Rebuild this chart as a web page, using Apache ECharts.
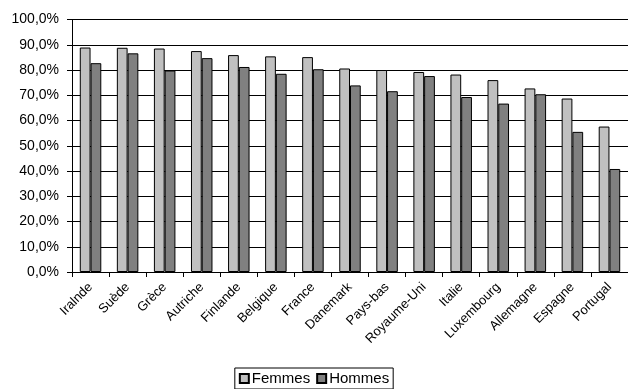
<!DOCTYPE html>
<html><head><meta charset="utf-8">
<script src="https://cdn.jsdelivr.net/npm/echarts@6/dist/echarts.min.js"></script>
<style>html,body{margin:0;padding:0;background:#fff}#c{width:628px;height:389px}</style>
</head><body><div id="c"></div>
<script>
const categories = ['Iralnde','Suède','Grèce','Autriche','Finlande','Belgique','France','Danemark','Pays-bas','Royaume-Uni','Italie','Luxembourg','Allemagne','Espagne','Portugal'];
const femmes = [88.9, 88.8, 88.5, 87.5, 85.9, 85.4, 85.1, 80.6, 80.0, 79.2, 78.2, 76.0, 72.7, 68.7, 57.6];
const hommes = [82.7, 86.6, 79.8, 84.7, 81.2, 78.5, 80.3, 73.9, 71.6, 77.6, 69.3, 66.7, 70.4, 55.5, 40.8];
const FONT = '"Liberation Sans Narrow", "Arial Narrow", "Liberation Sans", sans-serif';
const chart = echarts.init(document.getElementById('c'));
chart.setOption({
  animation: false,
  backgroundColor: '#fff',
  grid: { left: 72, right: 0, top: 19.5, bottom: 117, containLabel: false },
  legend: {
    bottom: 0, left: 'center',
    data: ['Femmes','Hommes'],
    borderColor: '#000', borderWidth: 1, padding: [3, 4, 3, 4],
    itemWidth: 9, itemHeight: 9, itemGap: 6,
    textStyle: { fontFamily: FONT, fontSize: 15, color: '#000', padding: [0,0,0,-2] },
    icon: 'rect'
  },
  xAxis: {
    type: 'category', data: categories,
    axisLine: { lineStyle: { color: '#000', width: 1 } },
    axisTick: { show: true, length: 5, lineStyle: { color: '#000' } },
    axisLabel: { rotate: 45, interval: 0, fontFamily: FONT, fontSize: 13, color: '#000', margin: 13 }
  },
  yAxis: {
    type: 'value', min: 0, max: 100, interval: 10,
    axisLine: { show: true, lineStyle: { color: '#000', width: 1 } },
    axisTick: { show: true, length: 5, lineStyle: { color: '#000' } },
    splitLine: { lineStyle: { color: '#000', width: 1 } },
    axisLabel: { fontFamily: FONT, fontSize: 14, color: '#000', margin: 13,
      formatter: v => v.toFixed(1).replace('.', ',') + '%' }
  },
  series: [
    { name: 'Femmes', type: 'bar', data: femmes, barGap: '0%', barCategoryGap: '42%',
      itemStyle: { color: '#c0c0c0', borderColor: '#000', borderWidth: 1 } },
    { name: 'Hommes', type: 'bar', data: hommes,
      itemStyle: { color: '#808080', borderColor: '#000', borderWidth: 1 } }
  ]
});
</script></body></html>
